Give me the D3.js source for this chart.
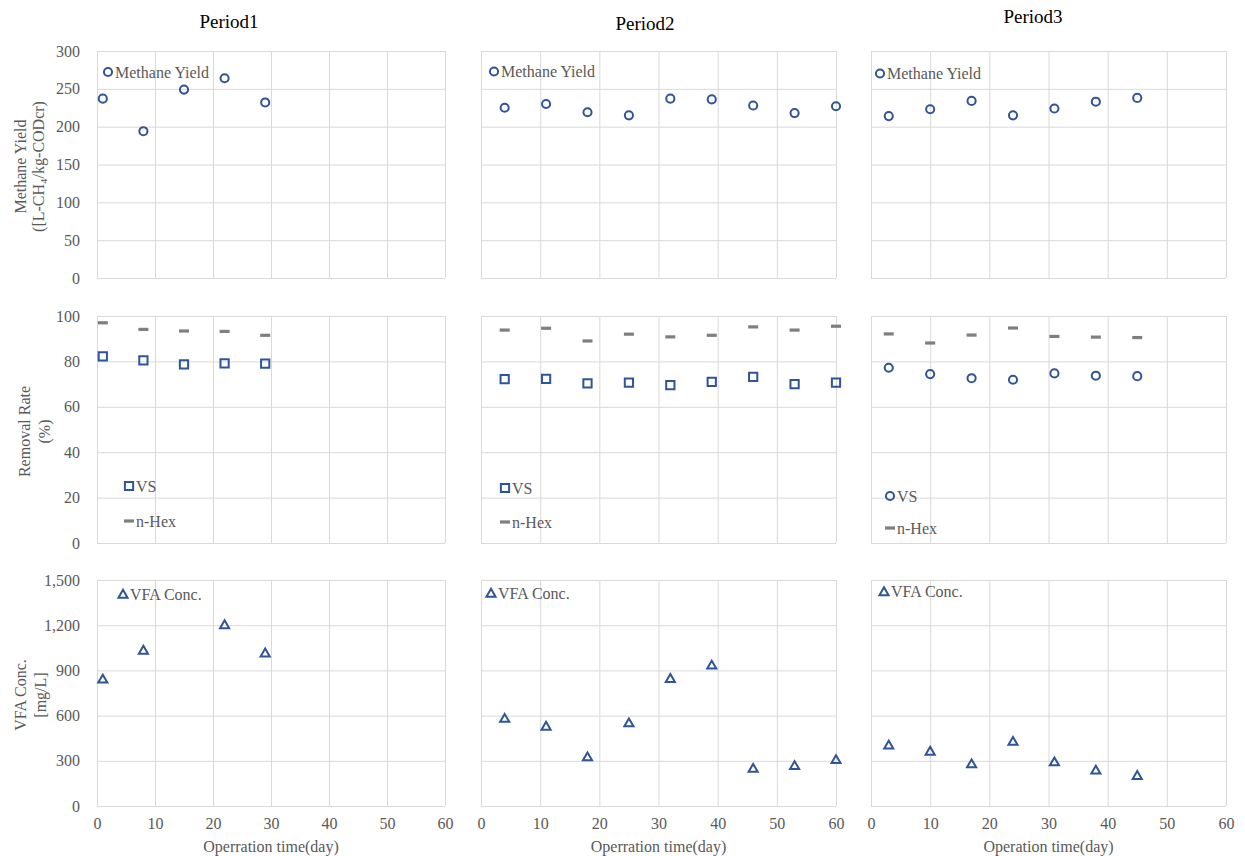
<!DOCTYPE html>
<html>
<head>
<meta charset="utf-8">
<script src="https://cdn.jsdelivr.net/npm/d3@7"></script>
<style>
  html, body { margin: 0; padding: 0; background: #fff; }
  svg { display: block; font-family: "Liberation Serif", "Times New Roman", serif; }
  .grid line { stroke: #d9d9d9; stroke-width: 1; }
  .tick text { fill: #595959; font-size: 16px; font-family: "Liberation Serif", serif; }
  .lbl { fill: #595959; font-size: 16px; }
  .title { fill: #000; font-size: 19px; }
</style>
</head>
<body>
<svg id="chart" width="1245" height="856"></svg>
<script>
// ---- data ----
const periods = ['Period1', 'Period2', 'Period3']
const days = [
  [1, 8, 15, 22, 29],
  [4, 11, 18, 25, 32, 39, 46, 53, 60],
  [3, 10, 17, 24, 31, 38, 45],
]
const methaneYield = [
  [237, 194, 249, 264, 232],
  [225, 230, 219, 215, 237, 236, 228, 218, 227],
  [214, 223, 234, 215, 224, 233, 238],
]
const vsRemoval = [
  [82.2, 80.5, 78.7, 79.1, 79.0],
  [72.2, 72.3, 70.3, 70.7, 69.6, 71.0, 73.2, 70.0, 70.7],
  [77.2, 74.4, 72.6, 71.9, 74.7, 73.7, 73.5],
]
const nhexRemoval = [
  [97.0, 94.1, 93.4, 93.2, 91.5],
  [93.8, 94.6, 89.0, 92.0, 90.8, 91.5, 95.2, 93.8, 95.5],
  [92.1, 88.1, 91.6, 94.7, 91.0, 90.7, 90.5],
]
const vfaDays = [
  [1, 8, 22, 29],
  [4, 11, 18, 25, 32, 39, 46, 53, 60],
  [3, 10, 17, 24, 31, 38, 45],
]
const vfaConc = [
  [843, 1035, 1204, 1017],
  [583, 531, 327, 553, 847, 936, 251, 269, 309],
  [405, 365, 281, 430, 294, 239, 204],
]
const xTicks = [0, 10, 20, 30, 40, 50, 60]
const yieldTicks = [0, 50, 100, 150, 200, 250, 300]
const removalTicks = [0, 20, 40, 60, 80, 100]
const vfaTicks = [0, 300, 600, 900, 1200, 1500]
const xLabels = ['Operration time(day)', 'Operration time(day)', 'Operation time(day)']

// ---- layout ----
const cols = [{ l: 97, r: 445 }, { l: 481, r: 836 }, { l: 871, r: 1226 }]
const rows = [{ t: 51, b: 278 }, { t: 316, b: 543 }, { t: 580, b: 806 }]
const titlePos = [{ x: 229, y: 28 }, { x: 645, y: 30 }, { x: 1033, y: 23 }]
const blue = '#2f5597'
const gray = '#7f7f7f'

const svg = d3.select('#chart')

const sym = (type, size) => d3.symbol().type(type).size(size)()
const shapes = {
  circle: sym(d3.symbolCircle, 52),
  square: sym(d3.symbolSquare, 68),
  triangle: sym(d3.symbolTriangle, 36),
}

function drawMarks(g, pts, shape, color) {
  if (shape === 'dash') {
    g.selectAll(null).data(pts).join('rect')
      .attr('x', (d) => d[0] - 5).attr('y', (d) => d[1] - 1.6)
      .attr('width', 10).attr('height', 3.2)
      .attr('fill', color)
  } else {
    g.selectAll(null).data(pts).join('path')
      .attr('d', shapes[shape])
      .attr('transform', (d) => `translate(${d[0]},${d[1] + (shape === 'triangle' ? 1 : 0)})`)
      .attr('fill', 'none').attr('stroke', color).attr('stroke-width', 2)
  }
}

function panel(ci, ri, yMax, ticks, fmt, series, legends) {
  const c = cols[ci], r = rows[ri]
  const x = d3.scaleLinear().domain([0, 60]).range([c.l, c.r])
  const y = d3.scaleLinear().domain([0, yMax]).range([r.b, r.t])
  const g = svg.append('g')

  // grid
  g.append('g').attr('class', 'grid')
    .attr('transform', `translate(0,${r.b})`)
    .call(d3.axisBottom(x).tickValues(xTicks).tickSize(-(r.b - r.t)).tickFormat(''))
    .call((a) => a.select('.domain').remove())
  g.append('g').attr('class', 'grid')
    .attr('transform', `translate(${c.l},0)`)
    .call(d3.axisLeft(y).tickValues(ticks).tickSize(-(c.r - c.l)).tickFormat(''))
    .call((a) => a.select('.domain').remove())

  // axis tick labels
  if (ci === 0) {
    g.append('g').attr('transform', `translate(${c.l - 14},0)`)
      .call(d3.axisLeft(y).tickValues(ticks).tickSize(0).tickFormat(fmt))
      .attr('font-family', null).attr('font-size', null)
      .call((a) => a.select('.domain').remove())
  }
  if (ri === 2) {
    g.append('g').attr('transform', `translate(0,${r.b + 9})`)
      .call(d3.axisBottom(x).tickValues(xTicks).tickSize(0))
      .attr('font-family', null).attr('font-size', null)
      .call((a) => a.select('.domain').remove())
    g.append('text').attr('class', 'lbl')
      .attr('x', (c.l + c.r) / 2).attr('y', r.b + 46)
      .attr('text-anchor', 'middle').text(xLabels[ci])
  }

  // series
  series.forEach((s) => {
    const pts = s.xs.map((d, i) => [x(d), y(s.ys[i])])
    drawMarks(g.append('g'), pts, s.shape, s.color)
  })

  // legend
  legends.forEach((L) => {
    const lx = c.l + L.dx, ly = r.t + L.dy
    drawMarks(g.append('g'), [[lx, ly]], L.shape, L.color)
    g.append('text').attr('class', 'lbl')
      .attr('x', lx + 7).attr('y', ly + 5.5).text(L.text)
  })
}

const fmtComma = d3.format(',')
const yieldLeg = [{ dx: 11, dy: 21 }, { dx: 13, dy: 20.5 }, { dx: 9, dy: 22.5 }]
const remLeg = [{ dx: 32, dy: 170, dy2: 205 }, { dx: 24, dy: 172, dy2: 206 }, { dx: 19, dy: 180, dy2: 212 }]
const vfaLeg = [{ dx: 26, dy: 14 }, { dx: 10, dy: 13 }, { dx: 13, dy: 11.5 }]

periods.forEach((p, ci) => {
  svg.append('text').attr('class', 'title')
    .attr('x', titlePos[ci].x).attr('y', titlePos[ci].y)
    .attr('text-anchor', 'middle').text(p)

  panel(ci, 0, 300, yieldTicks, (d) => d,
    [{ xs: days[ci], ys: methaneYield[ci], shape: 'circle', color: blue }],
    [{ ...yieldLeg[ci], shape: 'circle', color: blue, text: 'Methane Yield' }])

  const vsShape = ci === 2 ? 'circle' : 'square'
  panel(ci, 1, 100, removalTicks, (d) => d,
    [{ xs: days[ci], ys: nhexRemoval[ci], shape: 'dash', color: gray },
     { xs: days[ci], ys: vsRemoval[ci], shape: vsShape, color: blue }],
    [{ dx: remLeg[ci].dx, dy: remLeg[ci].dy, shape: vsShape, color: blue, text: 'VS' },
     { dx: remLeg[ci].dx, dy: remLeg[ci].dy2, shape: 'dash', color: gray, text: 'n-Hex' }])

  panel(ci, 2, 1500, vfaTicks, fmtComma,
    [{ xs: vfaDays[ci], ys: vfaConc[ci], shape: 'triangle', color: blue }],
    [{ ...vfaLeg[ci], shape: 'triangle', color: blue, text: 'VFA Conc.' }])
})

// y-axis titles (two lines, rotated)
const yTitles = [
  { lines: ['Methane Yield', '([L-CH₄/kg-CODcr)'], x1: 26, x2: 44 },
  { lines: ['Removal Rate', '(%)'], x1: 30, x2: 50 },
  { lines: ['VFA Conc.', '[mg/L]'], x1: 26, x2: 46 },
]
yTitles.forEach((t, ri) => {
  const cy = (rows[ri].t + rows[ri].b) / 2 + 2
  t.lines.forEach((line, i) => {
    const xx = i === 0 ? t.x1 : t.x2
    svg.append('text').attr('class', 'lbl')
      .attr('transform', `translate(${xx},${cy}) rotate(-90)`)
      .attr('text-anchor', 'middle').text(line)
  })
})
</script>
</body>
</html>
